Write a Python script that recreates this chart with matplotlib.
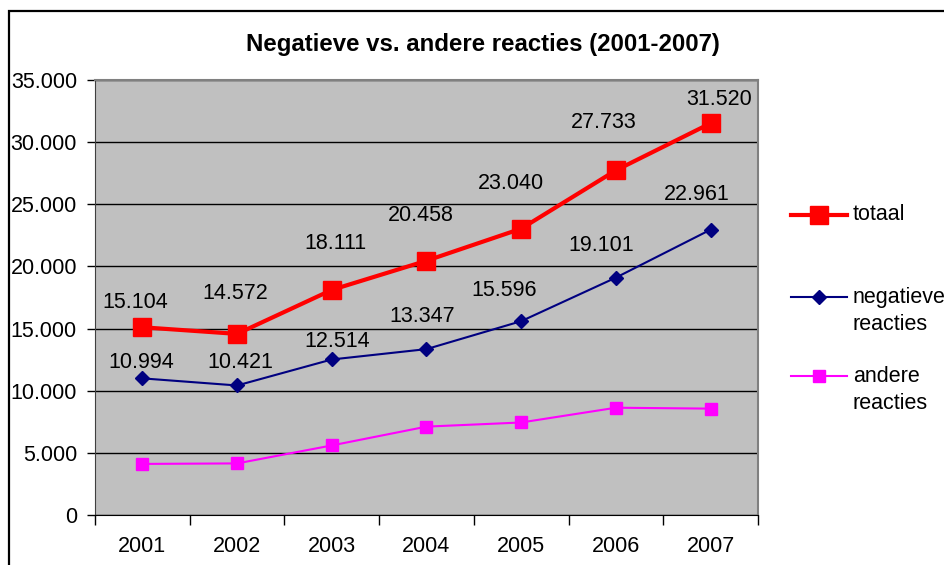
import matplotlib.pyplot as plt
from matplotlib.lines import Line2D
from matplotlib.patches import Rectangle
from matplotlib.ticker import FuncFormatter, FixedLocator

plt.rcParams['font.family'] = ['Liberation Sans', 'DejaVu Sans']

# data
years = [2001, 2002, 2003, 2004, 2005, 2006, 2007]
totaal = [15104, 14572, 18111, 20458, 23040, 27733, 31520]
negatieve = [10994, 10421, 12514, 13347, 15596, 19101, 22961]
andere = [4110, 4151, 5597, 7111, 7444, 8632, 8559]

# label offsets in pixels (dx, dy)
tot_offsets = [(-7, 25), (-2, 40), (4, 46), (-6, 45), (-10, 45), (-12, 48), (8, 24)]
neg_offsets = [(-1, 16), (3, 23), (5, 18), (-4, 33), (-17, 31), (-15, 32), (-14, 35)]

FS = 15.5

def dotted(v, pos=None):
    return "{:,.0f}".format(v).replace(",", ".")

fig = plt.figure(figsize=(9.44, 5.65), dpi=100)
ax = fig.add_axes([95/944, 50/565, 663/944, 435/565])
ax.set_facecolor('#C0C0C0')

ax.plot(years, totaal, color='#FF0000', lw=3, marker='s', ms=13, zorder=4)
ax.plot(years, negatieve, color='#000080', lw=1.5, marker='D', ms=7.5, zorder=4)
ax.plot(years, andere, color='#FF00FF', lw=1.5, marker='s', ms=8.5, zorder=4)

for y, v, off in zip(years, totaal, tot_offsets):
    ax.annotate(dotted(v), (y, v), xytext=off, textcoords='offset pixels',
                ha='center', va='center', fontsize=FS, zorder=5)
for y, v, off in zip(years, negatieve, neg_offsets):
    ax.annotate(dotted(v), (y, v), xytext=off, textcoords='offset pixels',
                ha='center', va='center', fontsize=FS, zorder=5)

ax.set_xlim(years[0] - 0.5, years[-1] + 0.5)
ax.set_ylim(0, 35000)
ax.set_yticks(range(0, 35001, 5000))
ax.yaxis.set_major_formatter(FuncFormatter(dotted))
ax.set_xticks(years)
ax.set_xticklabels([str(y) for y in years])
ax.xaxis.set_minor_locator(FixedLocator([y - 0.5 for y in years] + [years[-1] + 0.5]))
ax.tick_params(axis='x', which='major', length=0, pad=15, labelsize=FS)
ax.tick_params(axis='x', which='minor', length=7, width=1, direction='out', color='black')
ax.tick_params(axis='y', length=6, width=1, direction='out', pad=7, labelsize=FS, color='black')
ax.grid(axis='y', color='black', lw=1)
ax.set_axisbelow(True)

for s in ['top', 'right']:
    ax.spines[s].set_color('#808080')
    ax.spines[s].set_linewidth(1.5)
ax.spines['left'].set_color('#404040')
ax.spines['bottom'].set_color('black')

fig.text(483/944, 1 - 44/565, 'Negatieve vs. andere reacties (2001-2007)',
         ha='center', va='center', fontsize=17.3, fontweight='bold')

# outer chart frame (cut off at right and bottom)
fig.patches.append(Rectangle((8.5/944, -0.2), 2, 1.2 - 10.5/565, transform=fig.transFigure,
                             fill=False, edgecolor='black', lw=1.6))

# legend
leg = [('totaal', '#FF0000', 3, 's', 13, 215),
       ('negatieve\nreacties', '#000080', 1.5, 'D', 7.5, 297),
       ('andere\nreacties', '#FF00FF', 1.5, 's', 8.5, 376)]
for label, col, lw, mk, ms, ypix in leg:
    yf = 1 - ypix/565
    fig.add_artist(Line2D([791/944, 847/944], [yf, yf], color=col, lw=lw))
    fig.add_artist(Line2D([819/944], [yf], color=col, marker=mk, ms=ms, lw=0))
    if '\n' in label:
        fig.text(853/944, yf + 10/565, label, ha='left', va='top', fontsize=FS, linespacing=1.4)
    else:
        fig.text(853/944, yf, label, ha='left', va='center', fontsize=FS)

fig.savefig('out.png', dpi=100)
